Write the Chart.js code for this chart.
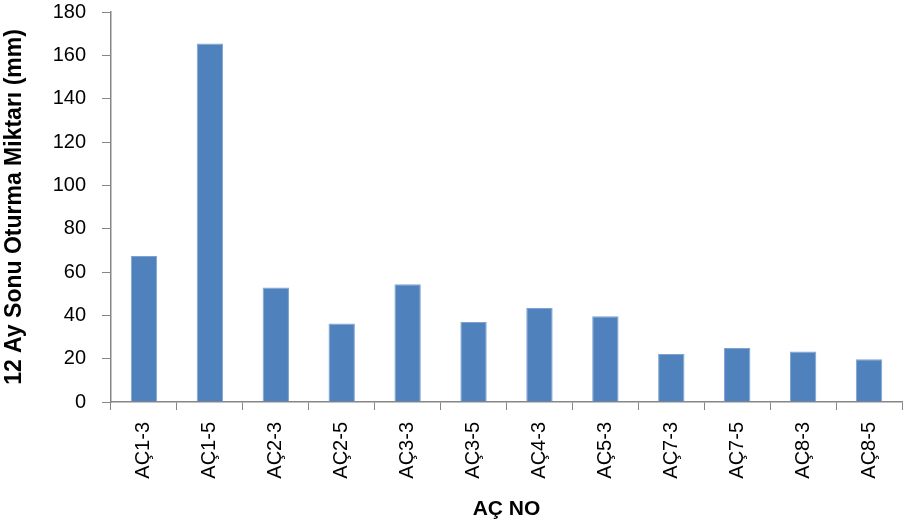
<!DOCTYPE html>
<html>
<head>
<meta charset="utf-8">
<script src="https://cdn.jsdelivr.net/npm/chart.js@4.4.0/dist/chart.umd.min.js"></script>
<style>
  html, body { margin: 0; padding: 0; background: #fff; }
  #wrap { width: 903px; height: 528px; position: relative; }
</style>
</head>
<body>
<div id="wrap"><canvas id="grafik"></canvas></div>
<script>
// ======= VERİ =======
const kategoriler = ["AÇ1-3", "AÇ1-5", "AÇ2-3", "AÇ2-5", "AÇ3-3", "AÇ3-5", "AÇ4-3", "AÇ5-3", "AÇ7-3", "AÇ7-5", "AÇ8-3", "AÇ8-5"];
const oturma = [67.4, 165.5, 52.9, 36.2, 54.3, 36.9, 43.4, 39.6, 22.2, 24.9, 23.3, 19.7];
const yEksenBasligi = "12 Ay Sonu Oturma Miktarı (mm)";
const xEksenBasligi = "AÇ NO";

const eksenRengi = "#868686";
const yaziTipi = "'Liberation Sans', Arial, sans-serif";

// ======= GRAFİK =======
const ctx = document.getElementById("grafik");
new Chart(ctx, {
  type: "bar",
  data: {
    labels: kategoriler,
    datasets: [{
      data: oturma,
      backgroundColor: "#4F81BD",
      borderColor: "#7FA3D1",
      borderWidth: 1,
      categoryPercentage: 1,
      barPercentage: 0.4
    }]
  },
  options: {
    responsive: true,
    maintainAspectRatio: false,
    animation: false,
    layout: { padding: { top: 12, right: 1, left: 0, bottom: 0 } },
    plugins: { legend: { display: false }, tooltip: { enabled: false } },
    scales: {
      x: {
        grid: { drawOnChartArea: false, color: eksenRengi, tickLength: 8, tickColor: eksenRengi },
        border: { color: eksenRengi, width: 1.5 },
        ticks: { minRotation: 90, maxRotation: 90, padding: 12, color: "#000", font: { family: yaziTipi, size: 20 } },
        title: { display: true, text: xEksenBasligi, color: "#000", padding: { top: 4, bottom: 6 }, font: { family: yaziTipi, size: 21, weight: "bold" } },
        afterFit: s => { s.height = 126; s.paddingLeft = 0; s.paddingRight = 0; }
      },
      y: {
        min: 0,
        max: 180,
        grid: { drawOnChartArea: false, color: eksenRengi, tickLength: 9, tickColor: eksenRengi },
        border: { color: eksenRengi, width: 1.5 },
        ticks: { stepSize: 20, padding: 16, color: "#000", font: { family: yaziTipi, size: 20 } },
        title: { display: true, text: yEksenBasligi, color: "#000", padding: { top: 1, bottom: 4 }, font: { family: yaziTipi, size: 23, weight: "bold" } },
        afterFit: s => { s.width = 111; s.paddingTop = 0; s.paddingBottom = 0; }
      }
    }
  }
});
</script>
</body>
</html>
